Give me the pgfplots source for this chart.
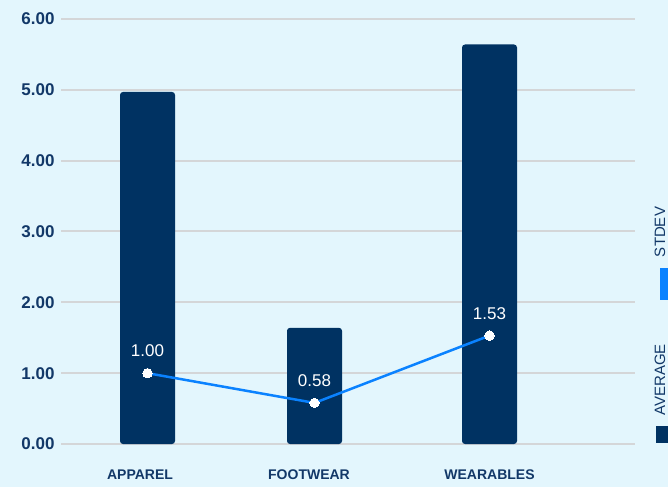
\documentclass[border=0pt]{standalone}
\usepackage{fontspec}
\setmainfont{Liberation Sans}
\usepackage{pgfplots}
\pgfplotsset{compat=1.18}
\definecolor{bgc}{RGB}{227,246,253}
\definecolor{navy}{RGB}{0,50,98}
\definecolor{txt}{RGB}{18,56,104}
\definecolor{lineb}{RGB}{10,130,255}
\definecolor{gridc}{RGB}{212,214,216}
\begin{document}
\begin{tikzpicture}[x=1pt,y=1pt]
\fill[bgc] (0,0) rectangle (668,487);
\begin{axis}[
  at={(61pt,43pt)}, anchor=south west,
  scale only axis, width=574pt, height=425pt,
  xmin=61, xmax=635, ymin=0, ymax=6,
  axis line style={draw=none},
  tick style={draw=none},
  ytick={0,1,2,3,4,5,6},
  ymajorgrids, grid style={gridc, line width=2pt},
  /pgf/number format/assume math mode=true,
  yticklabel style={font=\fontsize{17}{17}\selectfont\bfseries, text=txt, xshift=-3pt,
    /pgf/number format/.cd, fixed, fixed zerofill, precision=2},
  xtick={140,309,489.5},
  xticklabels={APPAREL,FOOTWEAR,WEARABLES},
  xticklabel style={font=\fontsize{14}{14}\selectfont\bfseries, text=txt, yshift=-22pt},
  clip=false,
]
\addplot[ybar, bar width=55pt, fill=navy, draw=none, rounded corners=3pt]
  coordinates {(147.5,4.97) (314.5,1.64) (489.5,5.64)};
\addplot[lineb, line width=2.5pt, mark=*, mark size=4.7pt,
  mark options={fill=white, draw=white, line width=0pt},
  nodes near coords,
  every node near coord/.append style={font=\fontsize{17}{17}\selectfont, text=white, anchor=south, yshift=13pt,
    /pgf/number format/.cd, fixed, fixed zerofill, precision=2, assume math mode=true}]
  coordinates {(147.5,1.00) (314.5,0.58) (489.5,1.53)};
\end{axis}
\fill[lineb] (660,187) rectangle (668,219);
\node[rotate=90, text=txt, font=\fontsize{15}{15}\selectfont, inner sep=0pt] at (660,255) {STDEV};
\fill[navy] (656,44) rectangle (668,61);
\node[rotate=90, text=txt, font=\fontsize{15}{15}\selectfont, inner sep=0pt] at (660,107) {AVERAGE};
\useasboundingbox (0,0) rectangle (668,487);
\end{tikzpicture}
\end{document}
